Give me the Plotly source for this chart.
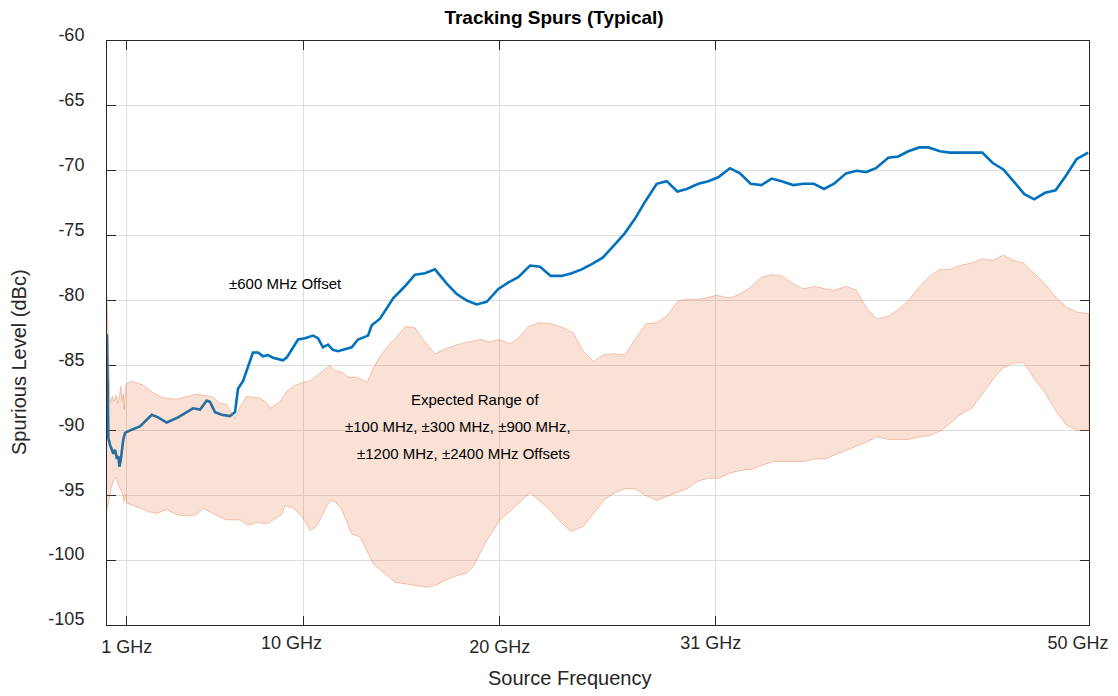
import plotly.graph_objects as go

# ---- data (frequency in GHz, level in dBc) ----
offset600_x = [0.00, 0.03, 0.07, 0.15, 0.24, 0.32, 0.41, 0.49, 0.58, 0.63, 0.70, 0.83, 0.92,
               1.17, 1.68, 2.28, 2.60, 3.04, 3.62, 4.38, 4.74, 5.08, 5.24, 5.50, 5.84, 6.26,
               6.52, 6.67, 6.93, 7.43, 7.69, 7.94, 8.20, 8.45, 8.96, 9.15, 9.73, 10.08, 10.49,
               10.74, 11.00, 11.25, 11.50, 11.76, 12.46, 12.78, 13.29, 13.48, 13.90, 14.58,
               15.17, 15.68, 16.19, 16.70, 17.30, 17.81, 18.32, 18.82, 19.33, 19.93, 20.44,
               20.94, 21.54, 22.05, 22.59, 23.15, 23.66, 24.17, 24.68, 25.24, 25.78, 26.37,
               26.88, 27.39, 27.99, 28.50, 29.04, 29.52, 30.11, 30.62, 31.12, 31.72, 32.23,
               32.77, 33.33, 33.84, 34.35, 34.94, 35.45, 35.99, 36.51, 37.02, 37.63, 38.17,
               38.65, 39.15, 39.78, 40.29, 40.80, 41.36, 41.82, 42.41, 42.92, 43.52, 44.03,
               44.57, 45.10, 45.64, 46.15, 46.71, 47.21, 47.76, 48.30, 48.86, 49.37, 49.96]
offset600_y = [-82.6, -90.0, -90.6, -91.1, -91.4, -91.8, -91.5, -92.1, -92.0, -92.8, -92.3, -90.7, -90.2,
               -90.0, -89.7, -88.8, -89.0, -89.4, -89.0, -88.3, -88.4, -87.7, -87.8, -88.6, -88.8, -88.9,
               -88.6, -86.8, -86.2, -84.0, -84.0, -84.3, -84.2, -84.4, -84.6, -84.4, -83.0, -82.9, -82.7,
               -82.9, -83.6, -83.4, -83.8, -83.9, -83.6, -83.0, -82.7, -81.9, -81.4, -79.8,
               -78.9, -78.0, -77.9, -77.6, -78.7, -79.5, -80.0, -80.3, -80.1, -79.1, -78.6,
               -78.2, -77.3, -77.4, -78.1, -78.1, -77.9, -77.6, -77.2, -76.7, -75.8, -74.8,
               -73.7, -72.4, -71.0, -70.8, -71.6, -71.4, -71.0, -70.8, -70.5, -69.8, -70.2,
               -71.0, -71.1, -70.6, -70.8, -71.1, -71.0, -71.0, -71.4, -71.0, -70.2, -70.0,
               -70.1, -69.8, -69.0, -68.9, -68.5, -68.2, -68.2, -68.5, -68.6, -68.6, -68.6,
               -68.6, -69.4, -69.9, -70.8, -71.8, -72.2, -71.7, -71.5, -70.3, -69.1, -68.6]

range_upper_x = [0.00, 0.15, 0.27, 0.36, 0.46, 0.54, 0.63, 0.71, 0.76, 0.83, 0.88, 0.93, 1.00,
                 1.26, 1.83, 2.34, 2.85, 3.55, 4.06, 4.57, 4.89, 5.33, 5.75, 6.09, 6.52, 6.77,
                 7.11, 7.79, 8.13, 8.30, 8.81, 9.15, 9.49, 9.99, 10.34, 10.50, 11.01, 11.35,
                 11.61, 11.95, 12.29, 12.71, 13.25, 13.56, 13.90, 14.41, 14.75, 15.17, 15.68,
                 16.10, 16.70, 17.12, 17.81, 18.48, 18.99, 19.50, 19.92, 20.52, 20.94, 21.45,
                 22.05, 22.64, 23.23, 23.74, 24.25, 24.76, 25.27, 25.78, 26.37, 26.88, 27.44,
                 27.99, 28.50, 29.09, 29.60, 30.19, 31.04, 31.72, 32.23, 32.74, 33.33, 33.84,
                 34.35, 34.94, 35.45, 36.05, 36.56, 37.07, 37.63, 38.15, 38.68, 39.19, 39.78,
                 40.29, 40.80, 41.40, 41.90, 42.41, 42.92, 43.43, 44.03, 44.54, 45.10, 45.64,
                 46.15, 46.66, 47.76, 48.35, 48.86, 49.40, 50.00]
range_upper_y = [-79.7, -87.9, -87.4, -87.8, -87.3, -87.9, -87.4, -86.6, -87.7, -87.2, -88.4, -86.8, -86.4,
                 -86.2, -86.5, -87.1, -87.5, -87.6, -87.4, -87.2, -87.3, -87.4, -87.9, -88.0, -89.1, -88.2,
                 -87.4, -87.5, -87.9, -88.3, -87.8, -87.0, -86.6, -86.3, -86.2, -86.0, -85.4, -85.0,
                 -85.4, -85.5, -85.9, -85.9, -86.3, -85.2, -84.3, -83.3, -82.8, -82.0, -82.1,
                 -83.0, -84.1, -83.8, -83.4, -83.2, -83.0, -83.2, -83.0, -83.3, -82.9, -82.0,
                 -81.7, -81.8, -82.1, -82.5, -83.9, -84.7, -84.2, -84.1, -84.2, -83.0, -81.8,
                 -81.7, -81.2, -80.0, -79.9, -79.9, -79.6, -79.8, -79.5, -79.0, -78.2, -78.0,
                 -78.1, -78.7, -79.1, -78.9, -79.1, -79.2, -78.9, -79.2, -80.6, -81.4, -81.2,
                 -80.7, -80.0, -78.9, -78.1, -77.6, -77.6, -77.3, -77.1, -76.8, -76.9, -76.5,
                 -76.9, -77.1, -78.7, -79.8, -80.5, -80.9, -81.0]

range_lower_x = [0.00, 0.12, 0.24, 0.36, 0.46, 0.58, 0.70, 0.80, 0.87, 0.97, 1.00, 1.51, 2.19,
                 2.53, 3.04, 3.55, 4.06, 4.57, 4.90, 5.50, 6.09, 6.77, 7.19, 7.62, 8.13, 8.55,
                 8.90, 9.06, 9.49, 9.91, 10.34, 10.68, 11.01, 11.35, 11.61, 11.95, 12.20, 12.46,
                 12.88, 13.56, 14.66, 15.51, 16.28, 16.79, 17.30, 17.81, 18.32, 18.65, 19.33,
                 20.01, 20.69, 21.54, 22.39, 23.07, 23.62, 24.25, 24.76, 25.36, 25.87, 26.37,
                 26.88, 27.39, 27.99, 28.50, 29.01, 29.52, 30.11, 30.62, 31.12, 31.72, 32.23,
                 32.83, 33.33, 33.93, 34.44, 34.94, 35.45, 36.05, 36.56, 37.07, 37.58, 38.17,
                 38.68, 39.19, 39.78, 40.80, 41.40, 41.90, 42.50, 43.43, 44.03, 45.15, 45.64,
                 46.18, 46.69, 47.25, 47.76, 48.35, 48.86, 49.40, 50.00]
range_lower_y = [-96.1, -95.1, -94.3, -93.8, -93.6, -94.2, -94.6, -94.9, -95.5, -94.9, -95.6, -95.9, -96.3,
                 -96.4, -96.1, -96.5, -96.6, -96.5, -96.0, -96.5, -96.9, -96.9, -97.3, -97.1, -97.2, -96.8,
                 -96.5, -95.8, -96.0, -96.6, -97.7, -97.4, -96.4, -95.4, -95.5, -96.1, -97.0, -98.0,
                 -98.2, -100.3, -101.7, -101.9, -102.1, -101.9, -101.5, -101.2, -101.0, -100.5, -98.5,
                 -96.9, -96.0, -94.8, -95.9, -97.0, -97.8, -97.4, -96.4, -95.3, -94.8, -94.5,
                 -94.5, -95.0, -95.4, -95.1, -94.8, -94.5, -93.9, -93.7, -93.7, -93.3, -93.1,
                 -93.0, -92.7, -92.4, -92.4, -92.4, -92.4, -92.2, -92.2, -91.9, -91.6, -91.2,
                 -90.9, -90.5, -90.7, -90.7, -90.5, -90.4, -90.0, -88.8, -88.3, -86.0, -85.2,
                 -84.8, -84.8, -86.1, -87.1, -88.6, -89.6, -90.0, -90.0]

x_tick_vals = [1, 10, 20, 31, 50]
x_tick_text = ["1 GHz", "10 GHz", "20 GHz", "31 GHz", "50 GHz"]
y_tick_vals = [-105, -100, -95, -90, -85, -80, -75, -70, -65, -60]
y_tick_text = ["-105", "-100", "-95", "-90", "-85", "-80", "-75", "-70", "-65", "-60"]

# horizontal label offsets (px) seen in the reference, grouped onto overlay axes
x_label_shift = [0, -12, 0, -5, -11]

FONT = "Liberation Sans, Arial, sans-serif"
AX = "rgb(38,38,38)"

fig = go.Figure()

fig.add_trace(go.Scatter(
    x=offset600_x, y=offset600_y, mode="lines",
    line=dict(color="#0072BD", width=2.6), name="±600 MHz Offset",
    showlegend=False, hoverinfo="skip"))

band_x = range_upper_x + range_lower_x[::-1]
band_y = range_upper_y + range_lower_y[::-1]
fig.add_trace(go.Scatter(
    x=band_x, y=band_y, mode="lines", fill="toself",
    fillcolor="rgba(220,90,30,0.18)",
    line=dict(color="rgba(230,120,70,0.40)", width=1),
    name="Expected Range", showlegend=False, hoverinfo="skip"))

axis_common = dict(
    showline=True, linecolor=AX, linewidth=1, mirror="ticks",
    ticks="inside", ticklen=9, tickcolor=AX, tickwidth=1,
    showgrid=True, gridcolor="rgb(222,222,222)", gridwidth=1,
    zeroline=False, tickfont=dict(family=FONT, size=18, color=AX),
    layer="below traces", automargin=False,
)

# primary x axis: all tick marks and grid lines; labels only for the unshifted ticks
primary_text = [t if s == 0 else "" for t, s in zip(x_tick_text, x_label_shift)]
layout_axes = dict(
    xaxis=dict(range=[0, 50], tickvals=x_tick_vals, ticktext=primary_text,
               ticklabelstandoff=5, **axis_common),
    yaxis=dict(range=[-105, -60], tickvals=y_tick_vals, ticktext=y_tick_text,
               ticklabelstandoff=18, ticklabelshift=-6, **axis_common),
)

# overlay axes carrying the shifted labels (each needs a trace to be drawn)
shift_groups = sorted(set(s for s in x_label_shift if s != 0))
for i, sh in enumerate(shift_groups, start=2):
    vals = [v for v, s in zip(x_tick_vals, x_label_shift) if s == sh]
    txts = [t for t, s in zip(x_tick_text, x_label_shift) if s == sh]
    layout_axes[f"xaxis{i}"] = dict(
        overlaying="x", anchor="y", side="bottom", range=[0, 50],
        tickvals=vals, ticktext=txts, ticks="", showgrid=False, showline=False,
        zeroline=False, ticklabelstandoff=5, ticklabelshift=sh, automargin=False,
        tickfont=dict(family=FONT, size=18, color=AX))
    fig.add_trace(go.Scatter(x=[None], y=[None], xaxis=f"x{i}", yaxis="y",
                             mode="lines", showlegend=False, hoverinfo="skip"))
fig.update_layout(**layout_axes)

annots = [
    dict(x=9.11, y=-78.65, text="±600 MHz Offset", xref="x", yref="y"),
    dict(x=18.74, y=-87.66, text="Expected Range of", xref="x", yref="y"),
    dict(x=17.87, y=-89.74, text="±100 MHz, ±300 MHz, ±900 MHz,", xref="x", yref="y"),
    dict(x=18.13, y=-91.75, text="±1200 MHz, ±2400 MHz Offsets", xref="x", yref="y"),
]
for a in annots:
    fig.add_annotation(showarrow=False, xanchor="center", yanchor="middle",
                       font=dict(family=FONT, size=15, color="black"), **a)

fig.add_annotation(text="Source Frequency", xref="paper", yref="paper",
                   x=0.471, y=-0.0908, xanchor="center", yanchor="middle", showarrow=False,
                   font=dict(family=FONT, size=20, color=AX))
fig.add_annotation(text="Spurious Level (dBc)", xref="paper", yref="paper",
                   x=-0.0896, y=0.4503, xanchor="center", yanchor="middle", showarrow=False,
                   textangle=-90, font=dict(family=FONT, size=20, color=AX))

# page body has an 8px margin, so the figure is sized to fit the window from (8, 8)
fig.update_layout(
    width=1110, height=688,
    margin=dict(l=99, r=29, t=33, b=71, autoexpand=False),
    paper_bgcolor="white", plot_bgcolor="white",
    title=dict(text="<b>Tracking Spurs (Typical)</b>", xref="container", yref="container",
               x=0.4919, y=0.9869, xanchor="center", yanchor="middle",
               font=dict(family=FONT, size=19, color="black")),
    showlegend=False,
)

fig.write_html("out.html")
